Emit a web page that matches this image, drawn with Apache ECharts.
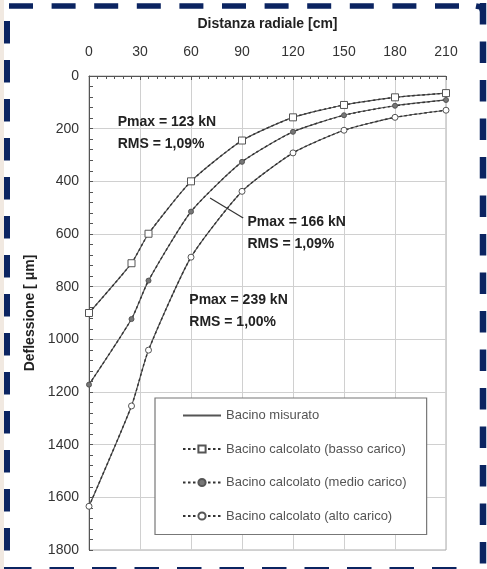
<!DOCTYPE html>
<html><head><meta charset="utf-8">
<script src="https://cdn.jsdelivr.net/npm/echarts@6/dist/echarts.min.js"></script>
<style>html,body{margin:0;padding:0;background:#fff;}#c{width:487px;height:569px;}</style>
</head><body><div id="c"></div>
<script>
// Radial distance of the geophones [cm]
const distances = [0, 25, 35, 60, 90, 120, 150, 180, 210];
// Measured deflection basins [µm]
const misuratoBasso = [900, 711, 599, 400, 245, 157, 110, 81, 65];
const misuratoMedio = [1172, 923, 777, 515, 326, 212, 149, 113, 91];
const misuratoAlto  = [1634, 1253, 1041, 688, 438, 292, 206, 157, 130];
// Calculated deflection basins [µm]
const calcolatoBasso = [900, 711, 599, 400, 245, 157, 110, 81, 65];
const calcolatoMedio = [1172, 923, 777, 515, 326, 212, 149, 113, 91];
const calcolatoAlto  = [1634, 1253, 1041, 688, 438, 292, 206, 157, 130];

const legendNames = ['Bacino misurato', 'Bacino calcolato (basso carico)', 'Bacino calcolato (medio carico)', 'Bacino calcolato (alto carico)'];
// annotation text, anchored in data coordinates [cm, µm]
const annotationTexts = ['Pmax = 123 kN\nRMS = 1,09%', 'Pmax = 166 kN\nRMS = 1,09%', 'Pmax = 239 kN\nRMS = 1,00%'];
const annotationAnchors = [[16.9, 217], [93.2, 597], [59, 894]];
const leaderLine = [[71.2, 463], [90.7, 539]];

const FONT = '"Liberation Sans", Arial, sans-serif';
const zip = (xs, ys) => xs.map((x, i) => [x, ys[i]]);

const chart = echarts.init(document.getElementById('c'), null, {renderer: 'canvas'});

function measured(vals) {
  return {
    name: legendNames[0], type: 'line', smooth: 0.2, symbol: 'none',
    lineStyle: {color: '#555', width: 1.2}, itemStyle: {color: '#555'},
    data: zip(distances, vals), z: 2
  };
}
function calculated(name, vals, symbol, size, fill) {
  return {
    name, type: 'line', smooth: 0.2, symbol, symbolSize: size, showSymbol: true,
    lineStyle: {color: '#333', width: 1.4, type: [2.5, 2.5]},
    itemStyle: {color: fill, borderColor: '#555', borderWidth: 1},
    data: zip(distances, vals), z: 3
  };
}

const option = {
  backgroundColor: '#fff',
  animation: false,
  textStyle: {fontFamily: FONT},
  grid: {left: 89, right: 41, top: 76, bottom: 19, show: true, borderColor: '#aaa', borderWidth: 1, backgroundColor: '#fff', outerBoundsMode: 'none', containLabel: false},
  xAxis: {
    type: 'value', position: 'top', min: 0, max: 210, interval: 30,
    name: 'Distanza radiale [cm]', nameLocation: 'middle', nameGap: 45,
    nameTextStyle: {fontSize: 14, fontWeight: 'bold', color: '#222', fontFamily: FONT},
    axisLine: {show: true, lineStyle: {color: '#555', width: 1}},
    axisTick: {show: true, inside: true, length: 4, lineStyle: {color: '#555'}},
    minorTick: {show: true, splitNumber: 6, length: 3, lineStyle: {color: '#555'}},
    axisLabel: {fontSize: 14, color: '#333', margin: 17, fontFamily: FONT},
    splitLine: {show: true, lineStyle: {color: '#d0d0d0', width: 1}}
  },
  yAxis: {
    type: 'value', inverse: true, min: 0, max: 1800, interval: 200,
    name: 'Deflessione [ μm]', nameLocation: 'middle', nameGap: 47, nameRotate: 90,
    nameTextStyle: {fontSize: 14, fontWeight: 'bold', color: '#222', fontFamily: FONT},
    axisLine: {show: true, lineStyle: {color: '#555', width: 1}},
    axisTick: {show: true, inside: true, length: 4, lineStyle: {color: '#555'}},
    minorTick: {show: true, splitNumber: 5, length: 4, lineStyle: {color: '#555'}},
    axisLabel: {fontSize: 14, color: '#333', margin: 10, fontFamily: FONT, formatter: v => String(v)},
    splitLine: {show: true, lineStyle: {color: '#d0d0d0', width: 1}}
  },
  legend: {
    orient: 'vertical', left: 155, top: 398,
    padding: [11, 20, 12, 27], itemGap: 20.5, itemWidth: 38, itemHeight: 9,
    borderColor: '#777', borderWidth: 1.2, backgroundColor: '#fff',
    textStyle: {fontSize: 13, color: '#555', fontFamily: FONT},
    data: [
      {name: legendNames[0], itemStyle: {opacity: 0}},
      legendNames[1], legendNames[2], legendNames[3]
    ]
  },
  series: [
    measured(misuratoBasso), measured(misuratoMedio), measured(misuratoAlto),
    calculated(legendNames[1], calcolatoBasso, 'rect', 7, '#fff'),
    calculated(legendNames[2], calcolatoMedio, 'circle', 5, '#777'),
    calculated(legendNames[3], calcolatoAlto, 'circle', 6, '#fff')
  ]
};
chart.setOption(option);

// Annotations and decorative dashed frame
const navy = '#0b2461';
const g = [];
annotationTexts.forEach((t, i) => {
  const p = chart.convertToPixel({gridIndex: 0}, annotationAnchors[i]);
  g.push({type: 'text', x: p[0], y: p[1], z: 10, style: {text: t, font: 'bold 14px ' + FONT, fill: '#222', lineHeight: 22, verticalAlign: 'middle', align: 'left'}});
});
const a = chart.convertToPixel({gridIndex: 0}, leaderLine[0]);
const b = chart.convertToPixel({gridIndex: 0}, leaderLine[1]);
g.push({type: 'line', z: 10, shape: {x1: a[0], y1: a[1], x2: b[0], y2: b[1]}, style: {stroke: '#333', lineWidth: 1.2}});
// frame
g.push({type: 'rect', z: 20, shape: {x: 0, y: 0, width: 4, height: 569}, style: {fill: '#f1e9e1'}});
g.push({type: 'line', z: 21, shape: {x1: 9, y1: 6, x2: 462, y2: 6}, style: {stroke: navy, lineWidth: 5.5, lineDash: [24, 18.6]}});
g.push({type: 'line', z: 21, shape: {x1: 7, y1: 21, x2: 7, y2: 569}, style: {stroke: navy, lineWidth: 6, lineDash: [22.5, 16.5]}});
g.push({type: 'line', z: 21, shape: {x1: 483, y1: 3, x2: 483, y2: 569}, style: {stroke: navy, lineWidth: 6.5, lineDash: [21.5, 17]}});
g.push({type: 'line', z: 21, shape: {x1: 7, y1: 570, x2: 470, y2: 570}, style: {stroke: navy, lineWidth: 6, lineDash: [24.5, 18]}});
g.push({type: 'polyline', z: 21, shape: {points: [[476, 6], [481, 7], [483, 12]]}, style: {stroke: navy, lineWidth: 5.5, fill: null}});
chart.setOption({graphic: {elements: g}});
</script>
</body></html>
